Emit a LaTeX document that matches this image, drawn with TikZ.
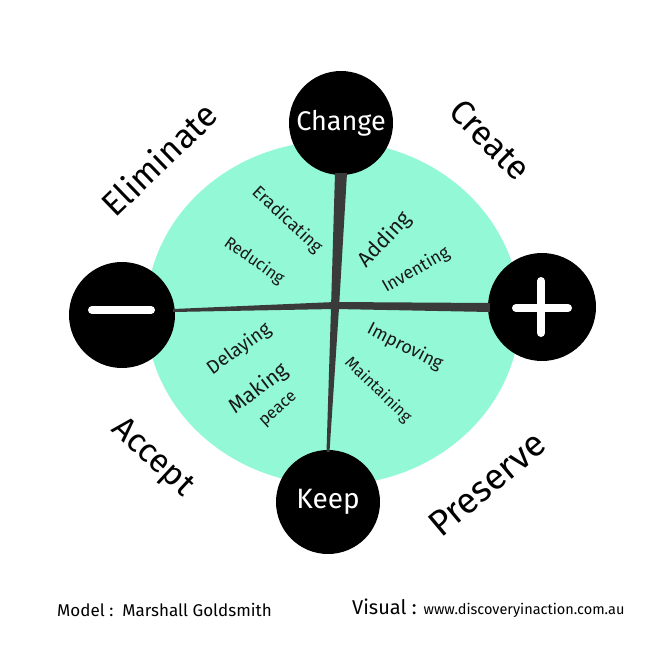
\documentclass[tikz,border=0pt]{standalone}
\usepackage{fontspec}
\setmainfont{Fira Sans}
\usetikzlibrary{calc}
\definecolor{mint}{RGB}{146,248,214}
\definecolor{barcol}{RGB}{58,58,58}
\newcommand{\fsz}[1]{\fontsize{#1}{#1}\selectfont}
\begin{document}
\begin{tikzpicture}[x=1pt,y=-1pt,
  disc/.style={circle,fill=black,minimum size=104pt,inner sep=0pt,text=white},
  lbl/.style={inner sep=0pt,text=black},
  inlbl/.style={inner sep=0pt,text=black!90},
  sign/.style={white,line width=8pt,line cap=round},
  barfill/.style={fill=barcol}]
\useasboundingbox (0,0) rectangle (656,650);
% green disc
\fill[mint] (333,313) ellipse [x radius=187, y radius=172];
% circles
\node[disc] (change) at (341,123) {\fsz{27}Change};
\node[disc] (keep) at (328,502) {\fsz{28}Keep};
\node[disc,minimum size=106pt] (minus) at (122,315) {};
\node[disc,minimum size=108pt] (plus) at (542,307) {};
% tapered bars
\fill[barfill] ($(change.south)+(-6,-2)$) -- ($(change.south)+(6,-2)$) -- (339,308) -- ($(keep.north)+(1.5,2)$) -- ($(keep.north)+(-1.5,2)$) -- (331,308) -- cycle;
\fill[barfill] ($(minus.east)+(-2,-6)$) -- ($(minus.east)+(-2,-3)$) -- (335,309) -- ($(plus.west)+(2,5)$) -- ($(plus.west)+(2,-4)$) -- (335,302) -- cycle;
% signs
\draw[sign] ($(minus.center)+(-30,-5)$) -- ($(minus.center)+(29,-5)$);
\draw[sign] ($(plus.center)+(-26,1)$) -- ($(plus.center)+(26,1)$);
\draw[sign] ($(plus.center)+(-1,-26)$) -- ($(plus.center)+(-1,26)$);
% outer labels
\node[lbl,rotate=44,font=\fsz{34}] (elim) at (159,159) {Eliminate};
\node[lbl,rotate=-45,font=\fsz{34}] (create) at (490,140) {Create};
\node[lbl,rotate=-43,font=\fsz{33}] (accept) at (152,458) {Accept};
\node[lbl,rotate=40,font=\fsz{36}] (preserve) at (487,484) {Preserve};
% inner labels
\node[inlbl,rotate=-43,font=\fsz{17.5}] (erad) at (287,220) {Eradicating};
\node[inlbl,rotate=-35,font=\fsz{16.5}] (red) at (254,261) {Reducing};
\node[inlbl,rotate=47,font=\fsz{21}] (add) at (385,240) {Adding};
\node[inlbl,rotate=30,font=\fsz{17.5}] (inv) at (416,270) {Inventing};
\node[inlbl,rotate=36,font=\fsz{19}] (del) at (239,349) {Delaying};
\node[inlbl,rotate=37,font=\fsz{21}] (mak) at (259,389) {Making};
\node[inlbl,rotate=42,font=\fsz{16.5}] (peace) at (279,410) {peace};
\node[inlbl,rotate=-27,font=\fsz{18}] (imp) at (405,347) {Improving};
\node[inlbl,rotate=-44,font=\fsz{16}] (main) at (378,390) {Maintaining};
% footer
\node[lbl,anchor=west,font=\fsz{17}] (model) at (57,610) {Model :\ \ Marshall Goldsmith};
\node[lbl,anchor=west,font=\fsz{20}] (visual) at (352,608) {Visual : {\fsz{14.5}www.discoveryinaction.com.au}};
\end{tikzpicture}
\end{document}
